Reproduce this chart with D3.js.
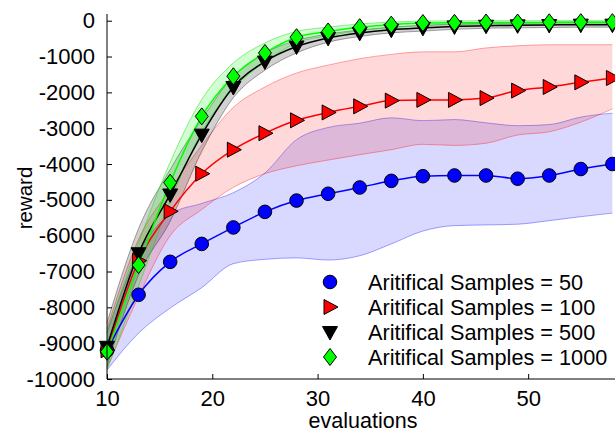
<!DOCTYPE html>
<html>
<head>
<meta charset="utf-8">
<script src="https://cdn.jsdelivr.net/npm/d3@7/dist/d3.min.js"></script>
<style>
  body { margin: 0; background: #fff; }
  svg { display: block; font-family: "Liberation Sans", Arial, Helvetica, sans-serif; }
</style>
</head>
<body>
<svg id="chart" width="615" height="433"></svg>
<script>
// ---- data ----
const evaluations = [10, 13, 16, 19, 22, 25, 28, 31, 34, 37, 40, 43, 46, 49, 52, 55, 58];

const labels = ["Aritifical Samples = 50", "Aritifical Samples = 100", "Aritifical Samples = 500", "Aritifical Samples = 1000"];

const mean50   = [-9200, -7650, -6730, -6230, -5770, -5335, -5020, -4830, -4655, -4470, -4340, -4320, -4320, -4410, -4320, -4140, -4000];
const upper50  = [-8700, -6500, -5400, -5100, -4800, -4250, -3320, -2980, -2860, -2710, -2790, -2760, -2850, -2930, -2900, -2690, -2580];
const lower50  = [-9750, -8720, -8020, -7450, -6780, -6660, -6620, -6680, -6560, -6230, -5870, -5720, -5700, -5680, -5580, -5470, -5370];

const mean100  = [-9200, -6700, -5320, -4270, -3600, -3140, -2780, -2560, -2390, -2230, -2210, -2210, -2160, -1950, -1850, -1720, -1600];
const upper100 = [-8600, -6100, -4700, -3480, -2420, -1850, -1460, -1240, -1060, -940, -870, -870, -760, -700, -670, -670, -670];
const lower100 = [-9700, -7700, -6000, -5270, -4650, -4270, -4050, -3890, -3740, -3600, -3450, -3480, -3420, -3190, -3100, -2830, -2460];

const mean500  = [-9100, -6490, -4850, -3180, -1850, -1140, -720, -480, -340, -250, -200, -160, -140, -130, -120, -110, -110];
const upper500 = [-8430, -5800, -4150, -2750, -1550, -900, -550, -370, -260, -180, -130, -90, -70, -60, -50, -40, -40];
const lower500 = [-9650, -7100, -5600, -3650, -2150, -1380, -900, -600, -440, -340, -290, -240, -210, -200, -190, -180, -180];

const mean1000  = [-9240, -6820, -4520, -2670, -1550, -900, -460, -300, -180, -110, -65, -60, -50, -50, -45, -40, -40];
const upper1000 = [-8700, -6200, -3950, -2200, -1180, -620, -300, -180, -90, -40, -10, -5, 0, 0, 0, 0, 0];
const lower1000 = [-9750, -7400, -5050, -3100, -1900, -1150, -620, -420, -280, -190, -130, -110, -100, -100, -95, -90, -90];

const yTicks = [0, -1000, -2000, -3000, -4000, -5000, -6000, -7000, -8000, -9000, -10000];
const xTicks = [10, 20, 30, 40, 50];

// ---- layout ----
const svg = d3.select("#chart");
const x = d3.scaleLinear().domain([10, 58]).range([107, 612.4]);
const y = d3.scaleLinear().domain([-10000, 0]).range([379, 20.7]);

const series = [
  { mean: mean50,   up: upper50,   lo: lower50,   color: "#0000ff", fill: "rgba(0,0,255,0.15)",  edge: "rgba(0,0,255,0.35)",  marker: "circle" },
  { mean: mean100,  up: upper100,  lo: lower100,  color: "#ff0000", fill: "rgba(255,0,0,0.15)",  edge: "rgba(255,0,0,0.35)",  marker: "right" },
  { mean: mean500,  up: upper500,  lo: lower500,  color: "#000000", fill: "rgba(0,0,0,0.18)",    edge: "rgba(0,0,0,0.35)",    marker: "down" },
  { mean: mean1000, up: upper1000, lo: lower1000, color: "#00ff00", fill: "rgba(0,255,0,0.18)",  edge: "rgba(0,220,0,0.45)",  marker: "diamond" }
];

const curve = d3.curveMonotoneX;

// bands
series.forEach(s => {
  const idx = d3.range(evaluations.length);
  const area = d3.area().curve(curve)
    .x(i => x(evaluations[i])).y0(i => y(s.lo[i])).y1(i => y(s.up[i]));
  svg.append("path").attr("d", area(idx)).attr("fill", s.fill).attr("stroke", "none");
  const lineU = d3.line().curve(curve).x(i => x(evaluations[i])).y(i => y(s.up[i]));
  const lineL = d3.line().curve(curve).x(i => x(evaluations[i])).y(i => y(s.lo[i]));
  svg.append("path").attr("d", lineU(idx)).attr("fill", "none").attr("stroke", s.edge).attr("stroke-width", 1);
  svg.append("path").attr("d", lineL(idx)).attr("fill", "none").attr("stroke", s.edge).attr("stroke-width", 1);
});

function markerPath(type) {
  if (type === "circle") return d3.symbol().type(d3.symbolCircle).size(Math.PI * 6.8 * 6.8)();
  if (type === "right") return "M-6,-7.5L8,0L-6,7.5Z";
  if (type === "down") return "M-7.5,-5.5L7.5,-5.5L0,8Z";
  if (type === "diamond") return "M0,-8.5L6.5,0L0,8.5L-6.5,0Z";
}

// lines + markers
series.forEach(s => {
  const idx = d3.range(evaluations.length);
  const line = d3.line().curve(curve).x(i => x(evaluations[i])).y(i => y(s.mean[i]));
  svg.append("path").attr("d", line(idx)).attr("fill", "none").attr("stroke", s.color).attr("stroke-width", 1.5);
});
series.forEach(s => {
  svg.append("g").selectAll("path").data(evaluations).join("path")
    .attr("d", markerPath(s.marker))
    .attr("transform", (d, i) => `translate(${x(d)},${y(s.mean[i])})`)
    .attr("fill", s.color).attr("stroke", "#000").attr("stroke-width", 1);
});

// axes
const axisColor = "#000";
const fmt = d => String(d);
const yAxis = d3.axisLeft(y).tickValues(yTicks).tickSize(-5).tickPadding(12).tickFormat(fmt);
const gy = svg.append("g").attr("transform", `translate(${x(10)},0)`).call(yAxis);
gy.select(".domain").remove();
svg.append("line").attr("x1", x(10)).attr("x2", x(10)).attr("y1", 14).attr("y2", 379).attr("stroke", axisColor);

const xAxis = d3.axisBottom(x).tickValues(xTicks).tickSize(-5).tickPadding(11).tickFormat(fmt);
const gx = svg.append("g").attr("transform", `translate(0,${y(-10000)})`).call(xAxis);
gx.select(".domain").remove();
svg.append("line").attr("x1", x(10)).attr("x2", 615).attr("y1", y(-10000)).attr("y2", y(-10000)).attr("stroke", axisColor);

svg.selectAll(".tick text").attr("font-size", 22).attr("font-family", "Liberation Sans, Arial, sans-serif").attr("fill", "#000");
svg.selectAll(".tick line").attr("stroke", "#000");

svg.append("text").attr("x", 363).attr("y", 428).attr("text-anchor", "middle").attr("font-size", 21.5).text("evaluations");
svg.append("text").attr("transform", "translate(32,198) rotate(-90)").attr("text-anchor", "middle").attr("font-size", 20.5).text("reward");

// legend
const legendY = [282, 307, 332, 357];
series.forEach((s, i) => {
  svg.append("path").attr("d", markerPath(s.marker))
    .attr("transform", `translate(330,${legendY[i]})`)
    .attr("fill", s.color).attr("stroke", "#000").attr("stroke-width", 1);
  svg.append("text").attr("x", 368).attr("y", legendY[i]).attr("dy", "0.36em")
    .attr("font-size", 21.7).attr("fill", "#000").text(labels[i]);
});
</script>
</body>
</html>
